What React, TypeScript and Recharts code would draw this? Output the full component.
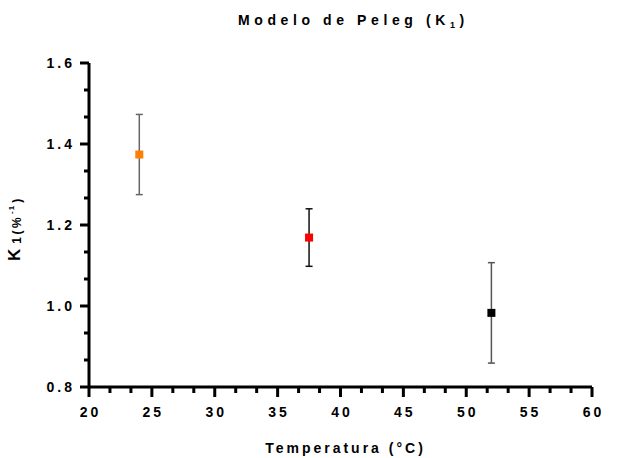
import React from 'react';
import { ScatterChart, Scatter, XAxis, YAxis, ErrorBar } from 'recharts';

const temps = [24, 37.5, 52];
const k1Mean = [1.374, 1.169, 0.983];
const k1Err = [0.099, 0.071, 0.124];
const pointColors = ['#FF8000', '#FF0000', '#000000'];
const barColors = ['#666666', '#111111', '#555555'];

const xMajorTicks = [20, 25, 30, 35, 40, 45, 50, 55, 60];
const yMajorTicks = [0.8, 1.0, 1.2, 1.4, 1.6];

const FONT = '"Liberation Sans", Arial, sans-serif';

// GraphPad-style: two minor ticks between each pair of majors
const withMinors = (majors: number[]) => {
  const out: number[] = [];
  majors.forEach((m, i) => {
    out.push(m);
    if (i < majors.length - 1) {
      const step = (majors[i + 1] - m) / 3;
      out.push(m + step, m + 2 * step);
    }
  });
  return out;
};

const isMajor = (v: number, majors: number[]) =>
  majors.some((m) => Math.abs(m - v) < 1e-6);

const XTick = (props: any) => {
  const { x, y, payload } = props;
  const major = isMajor(payload.value, xMajorTicks);
  return (
    <g>
      <line x1={x} x2={x} y1={y} y2={y + (major ? 10 : 6)} stroke="#000" strokeWidth={3} />
      {major && (
        <text
          x={x}
          y={y + 30}
          dx={1.5}
          textAnchor="middle"
          fontFamily={FONT}
          fontWeight="bold"
          fontSize={14}
          letterSpacing={3}
          fill="#000"
        >
          {payload.value}
        </text>
      )}
    </g>
  );
};

const YTick = (props: any) => {
  const { x, y, payload } = props;
  const major = isMajor(payload.value, yMajorTicks);
  return (
    <g>
      <line x1={x} x2={x - (major ? 9 : 5)} y1={y} y2={y} stroke="#000" strokeWidth={3} />
      {major && (
        <text
          x={x - 14}
          y={y + 5}
          textAnchor="end"
          fontFamily={FONT}
          fontWeight="bold"
          fontSize={14}
          letterSpacing={3}
          fill="#000"
        >
          {payload.value.toFixed(1)}
        </text>
      )}
    </g>
  );
};

const YLabel = () => (
  <text
    x={20}
    y={261}
    transform="rotate(-90 20 261)"
    textAnchor="start"
    fontFamily={FONT}
    fontWeight="bold"
    fill="#000"
  >
    <tspan fontSize={17}>K</tspan>
    <tspan fontSize={12} dx={5} dy={1} letterSpacing={2.5}>1(%</tspan>
    <tspan fontSize={8} dx={1} dy={-7} letterSpacing={1}>-1</tspan>
    <tspan fontSize={12} dx={2} dy={7}>)</tspan>
  </text>
);

const XLabel = () => (
  <text
    x={345.5}
    y={453}
    textAnchor="middle"
    fontFamily={FONT}
    fontWeight="bold"
    fontSize={14}
    letterSpacing={3}
    fill="#000"
  >
    Temperatura (°C)
  </text>
);

const Square = (color: string) => (props: any) => (
  <rect x={props.cx - 4} y={props.cy - 4} width={8} height={8} fill={color} />
);

export default function App() {
  const series = temps.map((t, i) => [{ x: t, y: k1Mean[i], err: k1Err[i] }]);

  return (
    <div style={{ position: 'absolute', left: 0, top: 0, width: 618, height: 458, background: '#fff' }}>
      <svg width={618} height={40} style={{ position: 'absolute', left: 0, top: 0 }}>
        <text x={238} y={25} fontFamily={FONT} fontWeight="bold" fontSize={14} letterSpacing={4.6} fill="#000">
          Modelo de Peleg (K
          <tspan fontSize={9} dy={3}>1</tspan>
          <tspan dy={-3}>)</tspan>
        </text>
      </svg>
      <ScatterChart
        width={618}
        height={458}
        margin={{ top: 63, right: 26, bottom: 11, left: 29 }}
      >
        <XAxis
          type="number"
          dataKey="x"
          domain={[20, 60]}
          ticks={withMinors(xMajorTicks)}
          interval={0}
          tickSize={0}
          tickMargin={0}
          tickLine={false}
          tick={<XTick />}
          axisLine={{ stroke: '#000', strokeWidth: 3 }}
          height={60}
          label={{ content: <XLabel /> }}
        />
        <YAxis
          type="number"
          dataKey="y"
          domain={[0.8, 1.6]}
          ticks={withMinors(yMajorTicks)}
          interval={0}
          tickSize={0}
          tickMargin={0}
          tickLine={false}
          tick={<YTick />}
          axisLine={{ stroke: '#000', strokeWidth: 3 }}
          width={60}
          label={{ content: <YLabel /> }}
        />
        {series.map((d, i) => (
          <Scatter
            key={i}
            data={d}
            fill={pointColors[i]}
            shape={Square(pointColors[i])}
            isAnimationActive={false}
          >
            <ErrorBar
              dataKey="err"
              direction="y"
              width={3.5}
              stroke={barColors[i]}
              strokeWidth={1.5}
            />
          </Scatter>
        ))}
      </ScatterChart>
    </div>
  );
}
